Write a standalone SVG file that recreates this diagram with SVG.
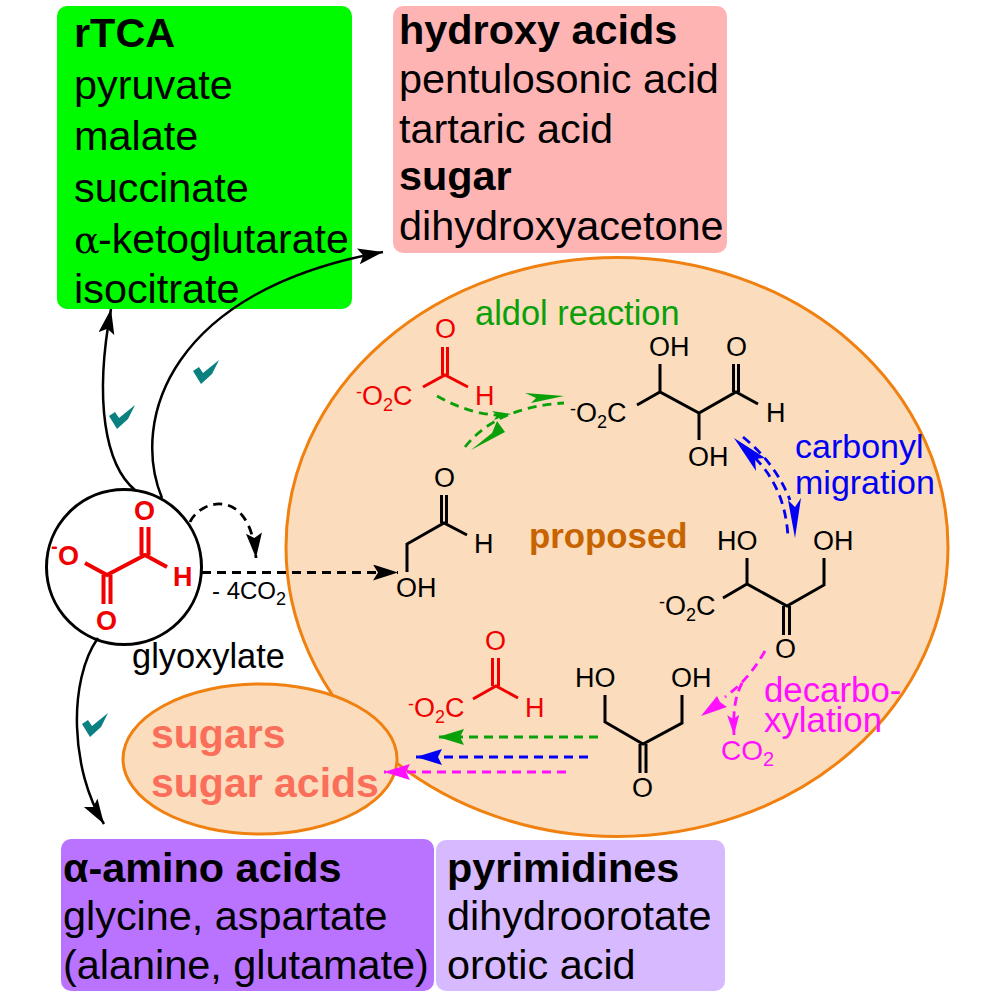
<svg xmlns="http://www.w3.org/2000/svg" width="996" height="996" viewBox="0 0 996 996">
<style>
text{font-family:"Liberation Sans",Arial,sans-serif;fill:#000}
.l{font-size:41.4px}
.b{font-size:41.4px;font-weight:bold}
.m{font-size:27px}
.s{font-size:18px}
.rbo{font-size:27px;font-weight:bold}
.bond{fill:none;stroke:#000;stroke-width:3}
.rb{fill:none;stroke:#f00000;stroke-width:3}
.rbb{fill:none;stroke:#f00000;stroke-width:4}
.con{fill:none;stroke:#000;stroke-width:2.500}
.d{fill:none;stroke-width:2.800;stroke-dasharray:9 6}
.chk{fill:#0a8080}
</style>
<defs>
<marker id="ak" markerUnits="userSpaceOnUse" markerWidth="26" markerHeight="18" refX="25" refY="8" orient="auto"><path d="M0 0L25 8L0 16L5 8Z" fill="#000"/></marker>
<marker id="ag" markerUnits="userSpaceOnUse" markerWidth="28" markerHeight="18" refX="26" refY="8" orient="auto"><path d="M0 0L26 8L0 16L4 8Z" fill="#0aa00a"/></marker>
<marker id="ab" markerUnits="userSpaceOnUse" markerWidth="28" markerHeight="18" refX="26" refY="8" orient="auto"><path d="M0 0L26 8L0 16L4 8Z" fill="#0000f5"/></marker>
<marker id="am" markerUnits="userSpaceOnUse" markerWidth="28" markerHeight="18" refX="26" refY="8" orient="auto"><path d="M0 0L26 8L0 16L4 8Z" fill="#ff10ff"/></marker>
<marker id="am2" markerUnits="userSpaceOnUse" markerWidth="22" markerHeight="14" refX="20" refY="6" orient="auto"><path d="M0 0L20 6L0 12L4 6Z" fill="#ff10ff"/></marker>
<path id="tick" d="M0 0L6 -4L10 2L26 -11L19 3L8 13Z"/>
</defs>
<rect width="996" height="996" fill="#fff"/>

<g id="node-rtca">
<rect x="57" y="6" width="295" height="303" rx="10" fill="#00fa00"/>
<text x="74" y="47" class="b">rTCA</text>
<text x="74" y="99" class="l">pyruvate</text>
<text x="74" y="149.500" class="l">malate</text>
<text x="74" y="201.500" class="l">succinate</text>
<text x="74" y="252.500" class="l"><tspan font-family="'DejaVu Serif','Liberation Serif',serif" font-size="38">α</tspan><tspan x="98" font-size="41">-ketoglutarate</tspan></text>
<text x="74" y="302.500" class="l">isocitrate</text>
</g>
<g id="node-hydroxy">
<rect x="393" y="6" width="334" height="247" rx="10" fill="#ffb4b4"/>
<text x="399" y="44" class="b">hydroxy acids</text>
<text x="399" y="93" class="l">pentulosonic acid</text>
<text x="399" y="143" class="l">tartaric acid</text>
<text x="399" y="190" class="b">sugar</text>
<text x="399" y="239.500" class="l">dihydroxyacetone</text>
</g>
<g id="node-amino">
<rect x="61" y="839" width="373" height="152" rx="10" fill="#b973ff"/>
<text x="63" y="881.500" class="b">α-amino acids</text>
<text x="63" y="930" class="l">glycine, aspartate</text>
<text x="63" y="979" class="l">(alanine, glutamate)</text>
</g>
<g id="node-pyr">
<rect x="436" y="840" width="289" height="151" rx="10" fill="#d7b9ff"/>
<text x="447" y="881.500" class="b">pyrimidines</text>
<text x="447" y="930" class="l">dihydroorotate</text>
<text x="447" y="979" class="l">orotic acid</text>
</g>

<g id="node-proposed">
<ellipse cx="617" cy="547" rx="331" ry="289.500" fill="#fbdcbc" stroke="#f08010" stroke-width="3"/>
<text x="529" y="548" font-size="34.800" font-weight="bold" style="fill:#c86400">proposed</text>
<text x="475" y="325" font-size="34.400" style="fill:#0aa00a">aldol reaction</text>
<text x="795" y="458" font-size="34" style="fill:#0000f5">carbonyl</text>
<text x="795" y="494" font-size="34" style="fill:#0000f5">migration</text>
<text x="764" y="702" font-size="34.800" style="fill:#ff10ff">decarbo-</text>
<text x="764" y="732" font-size="34.800" style="fill:#ff10ff">xylation</text>
<text x="721" y="760" font-size="28" style="fill:#ff10ff">CO<tspan font-size="20" dy="6">2</tspan></text>
</g>
<g id="node-sugars">
<ellipse cx="260" cy="759" rx="137" ry="75" fill="#fbdcbc" stroke="#f08010" stroke-width="3"/>
<text x="151" y="748" font-size="41" font-weight="bold" style="fill:#fa6e5a">sugars</text>
<text x="151" y="797" font-size="41" font-weight="bold" style="fill:#fa6e5a">sugar acids</text>
</g>

<g id="node-glyoxylate">
<circle cx="124" cy="567" r="77.500" fill="#fff" stroke="#000" stroke-width="3"/>
<path class="rbb" d="M85 563L107 575L145 555L167 567M103.500 575V604M110.500 575V604M141.500 555V527M148.500 555V527"/>
<text x="58" y="565" class="rbo" style="fill:#f00000">O</text>
<text x="51" y="553" font-size="20" font-weight="bold" style="fill:#f00000">-</text>
<text x="134" y="520" class="rbo" style="fill:#f00000">O</text>
<text x="96" y="630" class="rbo" style="fill:#f00000">O</text>
<text x="173" y="586" class="rbo" style="fill:#f00000">H</text>
<text x="132" y="668" font-size="34.400">glyoxylate</text>
</g>

<g id="mol-red1">
<text x="356" y="405" class="m" style="fill:#f00000"><tspan class="s" style="fill:#f00000" dy="-7">-</tspan><tspan dy="7">O</tspan><tspan class="s" dy="6">2</tspan><tspan dy="-6">C</tspan></text>
<path class="rb" d="M423 387L445 375L468 387M442.500 375V347M447.500 375V347"/>
<text x="435" y="338" class="m" style="fill:#f00000">O</text>
<text x="475" y="405" class="m" style="fill:#f00000">H</text>
</g>
<g id="mol-tetrose">
<text x="570" y="422" class="m"><tspan class="s" dy="-7">-</tspan><tspan dy="7">O</tspan><tspan class="s" dy="6">2</tspan><tspan dy="-6">C</tspan></text>
<path class="bond" d="M637 405L660 392L699 413L736 392L758 404M660 392V364M699 413V440M733.500 392V364M738.500 392V364"/>
<text x="649" y="356" class="m">OH</text>
<text x="688" y="466" class="m">OH</text>
<text x="726" y="356" class="m">O</text>
<text x="766" y="422" class="m">H</text>
</g>
<g id="mol-glycol">
<text x="434" y="487" class="m">O</text>
<path class="bond" d="M407 572V544L444 523L467 535M441.500 523V495M446.500 523V495"/>
<text x="396" y="597" class="m">OH</text>
<text x="474" y="553" class="m">H</text>
</g>
<g id="mol-ketose">
<text x="659" y="615" class="m"><tspan class="s" dy="-7">-</tspan><tspan dy="7">O</tspan><tspan class="s" dy="6">2</tspan><tspan dy="-6">C</tspan></text>
<path class="bond" d="M723 598L747 584L787 606L824 585V558M747 584V558M783.500 606V635M789.500 606V635"/>
<text x="717" y="550" class="m">HO</text>
<text x="813" y="550" class="m">OH</text>
<text x="775" y="658" class="m">O</text>
</g>
<g id="mol-red2">
<text x="408" y="717" class="m" style="fill:#f00000"><tspan class="s" style="fill:#f00000" dy="-7">-</tspan><tspan dy="7">O</tspan><tspan class="s" dy="6">2</tspan><tspan dy="-6">C</tspan></text>
<path class="rb" d="M473 699L496 686L518 698M492.500 686V658M498.500 686V658"/>
<text x="485" y="650" class="m" style="fill:#f00000">O</text>
<text x="525" y="717" class="m" style="fill:#f00000">H</text>
</g>
<g id="mol-dha">
<text x="575" y="687" class="m">HO</text>
<text x="671" y="687" class="m">OH</text>
<path class="bond" d="M605 695V722L643 744L682 723V695M640 744V773M646 744V773"/>
<text x="632" y="797" class="m">O</text>
</g>
<g id="mol-labels">
<text x="212" y="599" font-size="24">- 4CO<tspan font-size="18" dy="6">2</tspan></text>
</g>

<g id="connectors">
<path class="con" d="M135 490C105 465 94 400 111 309" marker-end="url(#ak)"/>
<path class="con" d="M162 498C130 420 170 290 383 252" marker-end="url(#ak)"/>
<path class="con" d="M98 638C68 680 70 770 104 824" marker-end="url(#ak)"/>
<path class="d" stroke="#000" stroke-dasharray="6 5" stroke-width="2.200" d="M190 522C200 500 250 485 256 558" marker-end="url(#ak)"/>
<path class="d" stroke="#000" stroke-dasharray="6.500 4.500" stroke-width="2" d="M202 572.500H398" marker-end="url(#ak)"/>
<path class="d" stroke="#0aa00a" stroke-dasharray="8 5" d="M437 396C465 412 490 416 507 415"/>
<path d="M492 411L511 414L494 420L497 415Z" fill="#0aa00a"/>
<path class="d" stroke="#0aa00a" stroke-dasharray="8 5" d="M465 447C490 415 530 405 564 403"/>
<path d="M525 393L564 396L531 403L536 398Z" fill="#0aa00a"/>
<path d="M471 450L505 432L497 421L492 433Z" fill="#0aa00a"/>
<path class="d" stroke="#0000f5" stroke-dasharray="7 5" d="M743 437C765 455 780 475 790 500"/>
<path class="d" stroke="#0000f5" stroke-dasharray="7 5" d="M755 458C772 475 786 500 788 537"/>
<path d="M734 438L765 458L755 459L756 471Z" fill="#0000f5"/>
<path d="M795 538L788 500L795 507L801 498Z" fill="#0000f5"/>
<path class="d" stroke="#ff10ff" stroke-dasharray="10 6" d="M765 651C755 668 745 682 725 697"/>
<path d="M701 716L717 696L720 702L727 707Z" fill="#ff10ff"/>
<path class="d" stroke="#ff10ff" stroke-dasharray="7 5" d="M742 683C735 697 733 710 734 735" marker-end="url(#am2)"/>
<path class="d" stroke="#0aa00a" d="M598 737H438" marker-end="url(#ag)"/>
<path class="d" stroke="#0000f5" d="M588 757H416" marker-end="url(#ab)"/>
<path class="d" stroke="#ff10ff" d="M566 772H384" marker-end="url(#am)"/>
</g>

<use href="#tick" class="chk" x="109" y="416"/>
<use href="#tick" class="chk" x="193" y="371"/>
<use href="#tick" class="chk" x="82" y="724"/>
</svg>
